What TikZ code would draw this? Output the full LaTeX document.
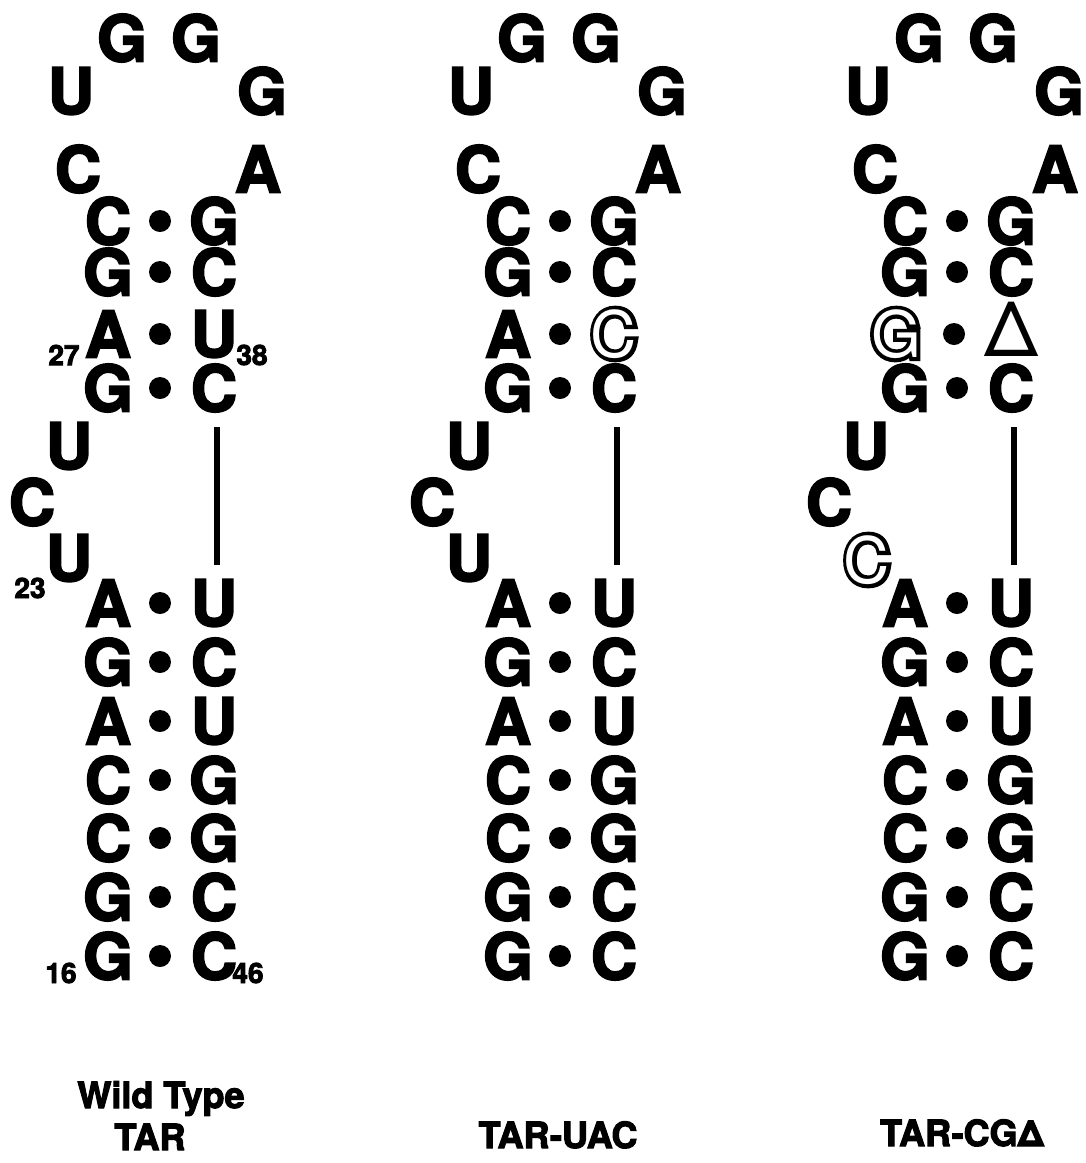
\documentclass[tikz,border=0pt]{standalone}
\usepackage{fontspec}
\setmainfont{TeX Gyre Heros}[BoldFeatures={FakeBold=3}]
\newfontfamily\outerfont{TeX Gyre Heros}[FakeBold=12]
\tikzset{
  nt/.style={inner sep=0pt, font=\fontsize{64}{64}\selectfont\bfseries},
  num/.style={inner sep=0pt, font=\fontsize{28}{28}\selectfont\bfseries},
  lab/.style={inner sep=0pt, anchor=base, font=\fontsize{36}{36}\selectfont\bfseries},
  bdot/.style={circle, fill=black, inner sep=0pt, minimum size=22pt},
  stemline/.style={line width=6pt},
}
\newcommand{\outl}[1]{{\mdseries\fontsize{64}{64}\selectfont\rlap{\outerfont #1}\textcolor{white}{#1}}}
\newcommand{\pairrow}[5]{%
  \node[nt] (#1l#2) at (108,#3) {#4};
  \node[bdot] (#1d#2) at (160,#3) {};
  \node[nt] (#1r#2) at (214,#3) {#5};
}
\newcommand{\hairpin}[1]{%
  \node[nt] (#1g1) at (122,38) {G};
  \node[nt] (#1g2) at (196,38) {G};
  \node[nt] (#1u1) at (71,91) {U};
  \node[nt] (#1g3) at (262,91) {G};
  \node[nt] (#1c1) at (78,169) {C};
  \node[nt] (#1a1) at (258,169) {A};
  \pairrow{#1}{1}{221}{C}{G}
  \pairrow{#1}{2}{272}{G}{C}
  \pairrow{#1}{4}{388}{G}{C}
  \node[nt] (#1b1) at (69,446) {U};
  \node[nt] (#1b2) at (32,502) {C};
  \pairrow{#1}{5}{603}{A}{U}
  \pairrow{#1}{6}{662}{G}{C}
  \pairrow{#1}{7}{721}{A}{U}
  \pairrow{#1}{8}{780}{C}{G}
  \pairrow{#1}{9}{838}{C}{G}
  \pairrow{#1}{10}{897}{G}{C}
  \pairrow{#1}{11}{956}{G}{C}
  \draw[stemline] ([xshift=3pt,yshift=-39pt]#1r4.center) -- ([xshift=3pt,yshift=38pt]#1r5.center);
}
\begin{document}
\begin{tikzpicture}[x=1pt,y=-1pt]
\path[use as bounding box] (0,0) rectangle (1086,1163);
% Wild type
\begin{scope}
  \hairpin{a}
  \pairrow{a}{3}{334}{A}{U}
  \node[nt] (ab3) at (69,558) {U};
  \node[num] (n27) at (64,355) {27};
  \node[num] (n38) at (252,355) {38};
  \node[num] (n23) at (30,588) {23};
  \node[num] (n16) at (61,973) {16};
  \node[num] (n46) at (248,973) {46};
\end{scope}
% TAR-UAC
\begin{scope}[xshift=400pt]
  \hairpin{b}
  \pairrow{b}{3}{334}{A}{\outl{C}}
  \node[nt] (bb3) at (69,558) {U};
\end{scope}
% TAR-CG Delta
\begin{scope}[xshift=797pt]
  \hairpin{c}
  \node[nt] (cl3) at (99,334) {\outl{G}};
  \node[bdot] (cd3) at (157,334) {};
  \node[nt] (cr3) at (215,329) {\mdseries\fontsize{76}{76}\selectfont Δ};
  \node[nt] (cb3) at (70,560) {\outl{C}};
\end{scope}
\node[lab] (wt1) at (161,1108) {Wild Type};
\node[lab] (wt2) at (150,1150) {TAR};
\node[lab] (uac) at (558,1148) {TAR-UAC};
\node[lab] (cgd) at (962,1146) {TAR-CGΔ};
\end{tikzpicture}
\end{document}
